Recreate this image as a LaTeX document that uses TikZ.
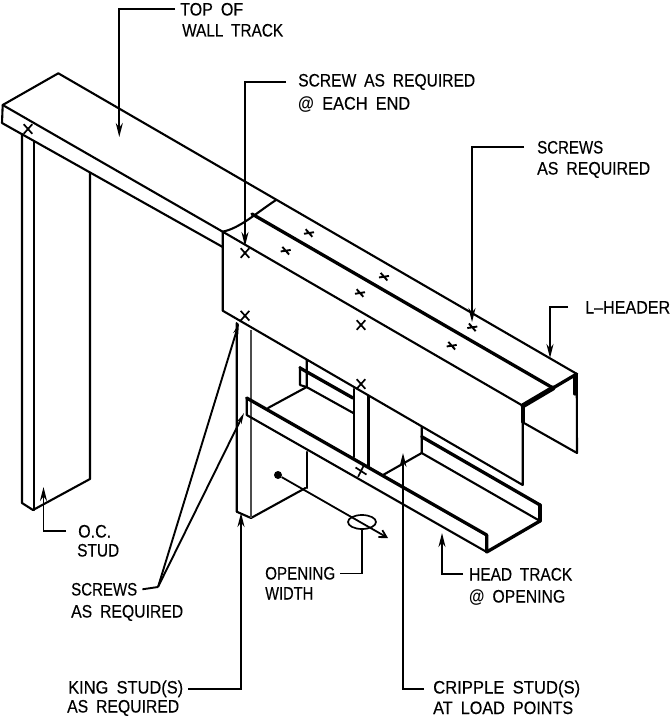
\documentclass[tikz,border=0pt]{standalone}
\usepackage{graphicx}
\usepackage{fontspec}
\setmainfont[WordSpace=1.8,FakeBold=0.35]{Liberation Sans}
\newfontfamily\atfont{Liberation Sans Bold}
\usetikzlibrary{arrows.meta,shapes.misc,shapes.geometric}
\newcommand{\fitw}[2]{\resizebox{#1pt}{\height}{#2}}
\newcommand{\atsign}{{\atfont @}}
\tikzset{
  edge/.style={line width=2.1pt,line cap=round,line join=round},
  heavy/.style={line width=3.3pt,line cap=round,line join=round},
  fine/.style={line width=1.2pt,black!70},
  leader/.style={line width=1.8pt,-{Stealth[length=14pt,width=7pt]}},
  lbl/.style={anchor=base west,inner sep=0pt,font=\fontsize{18}{20}\selectfont},
  bigx/.style={cross out,draw,line width=1.7pt,minimum width=7pt,minimum height=8pt,inner sep=0pt},
  smallx/.style={cross out,draw,line width=1.9pt,minimum width=7pt,minimum height=3pt,inner sep=0pt,rotate=-20},
}
\begin{document}
\begin{tikzpicture}[x=1pt,y=-1pt]
\useasboundingbox (0,0) rectangle (671,717);
% wall track
\draw[edge] (2.7,105) -- (58.3,73.3) -- (577,374);
\draw[edge] (2.7,105) -- (222.7,231.7);
\draw[edge] (2.7,105) -- (2,123) -- (222.7,247);
% O.C. stud
\draw[edge] (22,134) -- (22,503) -- (33,510) -- (90,479) -- (90,173);
\draw[edge] (34,141) -- (34,510);
% header
\draw[edge] (222.7,231.7) .. controls (240,228) and (255,214) .. (276,200);
\draw[edge] (222.7,231.7) -- (222.7,310.7) -- (522.7,485) -- (522.7,405.7) -- cycle;
\draw[heavy] (252,214) -- (553,388);
\draw[line width=5pt,line cap=round] (523,405.7) -- (553,388);
\draw[heavy] (553,388) -- (576.7,374);
\draw[edge] (576.7,374) -- (577,453) -- (524,423);
\draw[heavy] (575,376) -- (575,394);
\draw[heavy] (523,406) -- (523,422);
% king stud
\draw[edge] (236.7,323) -- (236.7,511.7) -- (251,518) -- (305.5,488);
\draw[fine] (251,330) -- (251,518);
\draw[edge] (306.7,452) -- (306.7,488);
% clip of back track
\draw[edge] (300,367) -- (300,385) -- (306.5,387) -- (353.3,413);
\draw[edge] (306.7,360) -- (306.7,387) -- (268,408);
\draw[heavy] (300,368) -- (353,398);
% cripple stud
\draw[edge] (354,389) -- (354,457);
\draw[edge] (368.5,396) -- (368.5,467);
% head track
\draw[heavy] (246.7,398) -- (486.7,535);
\draw[edge] (246.7,398) -- (246.7,415) -- (486.7,552);
\draw[heavy] (486.7,535) -- (486.7,552) -- (540,521);
\draw[edge] (421.7,427) -- (421.7,453) -- (540,521);
\draw[heavy] (421.7,436.7) -- (540,505);
\draw[heavy] (540,505) -- (540,521);
\draw[edge] (421.7,453) -- (383,475);
% screws
\node[bigx] (x1) at (28,129) {};
\node[bigx] (x2) at (245,253) {};
\node[bigx] (x3) at (245,315.7) {};
\node[bigx] (x4) at (361,325) {};
\node[bigx] (x5) at (361,384) {};
\node[bigx,rotate=15] (x6) at (361,471) {};
\node[smallx] (s1) at (309,233) {};
\node[smallx] (s2) at (285.7,250.7) {};
\node[smallx] (s3) at (384,276.7) {};
\node[smallx] (s4) at (360,293) {};
\node[smallx] (s5) at (472.3,327.3) {};
\node[smallx] (s6) at (451.7,345.7) {};
% labels
\node[lbl] (top1) at (180,15.5) {\fitw{63}{TOP OF}};
\node[lbl] (top2) at (182,36.5) {\fitw{101}{WALL TRACK}};
\node[lbl] (scr1) at (298,86.5) {\fitw{177}{SCREW AS REQUIRED}};
\node[lbl] (scr2) at (298,109.5) {\fitw{112}{\atsign{} EACH END}};
\node[lbl] (srs1) at (537,153.5) {\fitw{66}{SCREWS}};
\node[lbl] (srs2) at (537,174.5) {\fitw{113}{AS REQUIRED}};
\node[lbl] (lh) at (585,313.5) {\fitw{85}{L--HEADER}};
\node[lbl] (oc1) at (78,537.5) {\fitw{33}{O.C.}};
\node[lbl] (oc2) at (77,556.5) {\fitw{42}{STUD}};
\node[lbl] (open1) at (265,579.5) {\fitw{70}{OPENING}};
\node[lbl] (open2) at (265,599.5) {\fitw{48}{WIDTH}};
\node[lbl] (ht1) at (469,580.5) {\fitw{103}{HEAD TRACK}};
\node[lbl] (ht2) at (469,602.5) {\fitw{96}{\atsign{} OPENING}};
\node[lbl] (ss1) at (71,595.5) {\fitw{66}{SCREWS}};
\node[lbl] (ss2) at (71,617.5) {\fitw{112}{AS REQUIRED}};
\node[lbl] (ks1) at (68,693.5) {\fitw{115}{KING STUD(S)}};
\node[lbl] (ks2) at (67,712.5) {\fitw{112}{AS REQUIRED}};
\node[lbl] (cs1) at (433,693.5) {\fitw{147}{CRIPPLE STUD(S)}};
\node[lbl] (cs2) at (433,714) {\fitw{140}{AT LOAD POINTS}};
% leader targets
\coordinate (ttop) at (119.3,137);
\coordinate (tscr) at (245,246);
\coordinate (tsrs) at (472,322);
\coordinate (tlh) at (550,358);
\coordinate (toc) at (43.5,487);
\coordinate (tks) at (241,513);
\coordinate (tcs) at (403,453);
\coordinate (tht) at (442,533);
\coordinate (tss1) at (239,323);
\coordinate (tss2) at (244,413);
\coordinate (jss) at (158,587);
% opening width
\node[circle,fill,inner sep=0pt,minimum size=8pt] (dot) at (278,475) {};
\node[ellipse,draw,line width=1.7pt,minimum width=28pt,minimum height=14pt,inner sep=0pt] (ell) at (362,522) {};
\coordinate (aw) at (388,538);
\draw[line width=1.8pt,-{Straight Barb[length=7pt,width=8pt]}] (dot) -- (aw);
% leaders
\draw[leader] ([xshift=-5pt]top1.west) -| (ttop);
\draw[leader] ([xshift=-12pt]scr1.west) -| (tscr);
\draw[leader] ([xshift=-13pt]srs1.west) -| (tsrs);
\draw[leader] ([xshift=-17pt]lh.west) -| (tlh);
\draw[leader] ([xshift=-12pt]oc1.west) -| (toc);
\draw[leader] ([xshift=5pt]ks1.east) -| (tks);
\draw[leader] ([xshift=-9pt]cs1.west) -| (tcs);
\draw[leader] ([xshift=-6pt]ht1.west) -| (tht);
\draw[line width=1.6pt] ([xshift=5pt]open1.east) -| (ell.south);
\draw[line width=1.9pt] ([xshift=5pt]ss1.east) -- (jss);
\draw[line width=1.9pt,-{Stealth[length=11pt,width=5pt]}] (jss) -- (tss1);
\draw[line width=1.9pt,-{Stealth[length=11pt,width=5pt]}] (jss) -- (tss2);
\end{tikzpicture}
\end{document}
